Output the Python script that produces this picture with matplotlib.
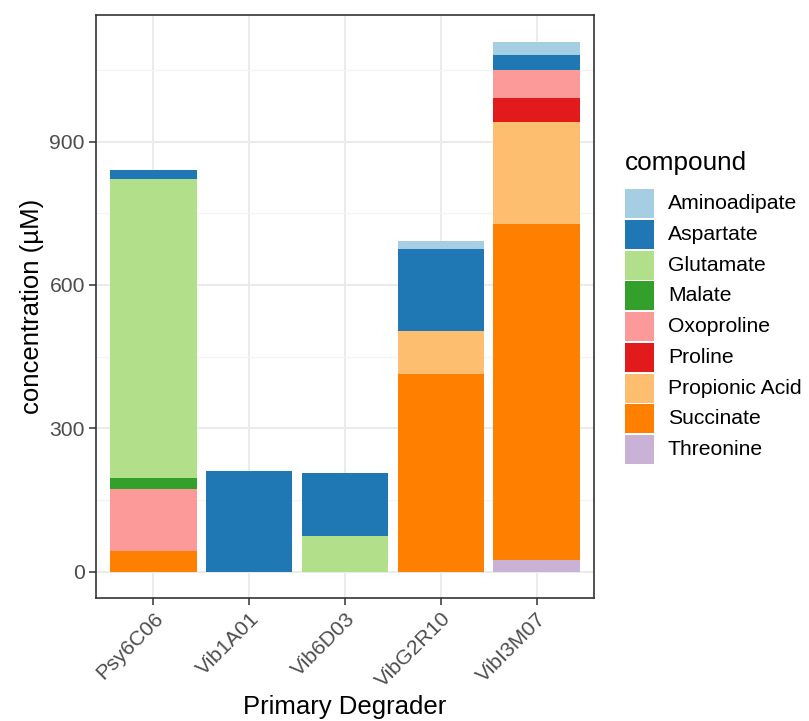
import numpy as np
import matplotlib
matplotlib.use("Agg")
import matplotlib.pyplot as plt
from matplotlib.patches import Rectangle

plt.rcParams['font.family'] = ['Liberation Sans', 'DejaVu Sans']

degraders = ["Psy6C06", "Vib1A01", "Vib6D03", "VibG2R10", "VibI3M07"]
compounds = ["Aminoadipate", "Aspartate", "Glutamate", "Malate", "Oxoproline",
             "Proline", "Propionic Acid", "Succinate", "Threonine"]

# concentration (uM) per compound, one value per degrader
aminoadipate = [0, 0, 0, 16, 27.7]
aspartate = [19.5, 210.5, 130.6, 172, 32.6]
glutamate = [626, 0, 74.6, 0, 0]
malate = [21.5, 0, 0, 0, 0]
oxoproline = [131, 0, 0, 0, 57.4]
proline = [0, 0, 0, 0, 51.3]
propionic_acid = [0, 0, 0, 90, 213]
succinate = [42.6, 0, 0, 413, 703]
threonine = [0, 0, 0, 0, 24.6]

colors = ["#A6CEE3", "#1F78B4", "#B2DF8A", "#33A02C", "#FB9A99",
          "#E31A1C", "#FDBF6F", "#FF7F00", "#CAB2D6"]

values = [aminoadipate, aspartate, glutamate, malate, oxoproline,
          proline, propionic_acid, succinate, threonine]

fig = plt.figure(figsize=(8.09, 7.21), dpi=100)
ax = fig.add_axes([96 / 809, 123 / 721, 498 / 809, 583 / 721])

x = np.arange(1, len(degraders) + 1)
bottom = np.zeros(len(degraders))
# stack from the last compound upward, like ggplot's default position_stack
for name, vals, col in reversed(list(zip(compounds, values, colors))):
    vals = np.array(vals, dtype=float)
    ax.bar(x, vals, width=0.9, bottom=bottom, color=col, linewidth=0, zorder=3)
    bottom += vals

ymax = bottom.max()
ax.set_ylim(-0.05 * ymax, ymax * 1.05)
ax.set_xlim(0.4, len(degraders) + 0.6)

ax.set_yticks([0, 300, 600, 900])
ax.set_yticks([150, 450, 750, 1050], minor=True)
ax.set_xticks(x)
ax.set_xticklabels(degraders, rotation=45, ha='right', va='top',
                   rotation_mode='anchor')
ax.tick_params(axis='both', which='major', labelsize=15.2, labelcolor='#4D4D4D',
               color='#333333', length=5, width=1.1, pad=3)
ax.tick_params(axis='y', which='minor', length=0)
ax.grid(True, which='major', color='#EBEBEB', linewidth=1.5, zorder=0)
ax.grid(True, which='minor', axis='y', color='#F3F3F3', linewidth=0.9, zorder=0)
ax.set_axisbelow(True)
for sp in ax.spines.values():
    sp.set_color('#333333')
    sp.set_linewidth(1.2)

ax.set_xlabel("Primary Degrader", fontsize=18.5, labelpad=3)
ax.set_ylabel("concentration (\u00b5M)", fontsize=18.5, labelpad=4)

# legend drawn by hand in figure pixels
W, H = 809, 721
fig.text(625 / W, 1 - 163 / H, "compound", fontsize=18.8, va='center', ha='left')
for i, (name, col) in enumerate(zip(compounds, colors)):
    top = 189.3 + i * 30.7
    fig.add_artist(Rectangle((625 / W, 1 - (top + 29) / H), 29 / W, 29 / H,
                             transform=fig.transFigure, facecolor=col,
                             edgecolor='none'))
    fig.text(668 / W, 1 - (top + 14.5) / H, name, fontsize=15.2,
             va='center', ha='left')

fig.savefig("out.png", dpi=100)
